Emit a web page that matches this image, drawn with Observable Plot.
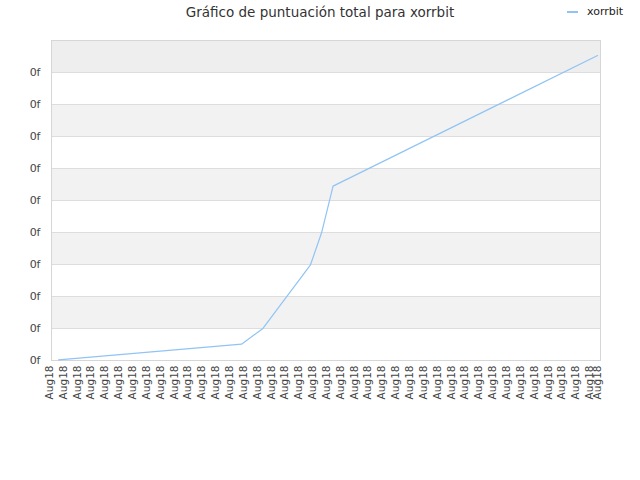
<!DOCTYPE html>
<html>
<head>
<meta charset="utf-8">
<script src="https://cdn.jsdelivr.net/npm/d3@7"></script>
<script src="https://cdn.jsdelivr.net/npm/@observablehq/plot@0.6"></script>
<style>
  html, body { margin: 0; padding: 0; background: #fff; }
  #wrap { position: relative; width: 640px; height: 480px; font-family: "DejaVu Sans", sans-serif; }
  #title { position: absolute; left: 0; width: 640px; top: 4px; text-align: center; font-size: 13.5px; color: #333; }
  #legend { position: absolute; left: 567px; top: 5px; font-size: 11px; color: #222; display: flex; align-items: center; }
  #legend .sw { display: inline-block; width: 11px; height: 2px; background: #90c4f4; margin-right: 9px; }
  #chart { position: absolute; left: 0; top: 0; }
</style>
</head>
<body>
<div id="wrap">
  <div id="chart"></div>
  <div id="title">Gráfico de puntuación total para xorrbit</div>
  <div id="legend"><span class="sw"></span>xorrbit</div>
</div>
<script>
// Data (x: day position, y: score in grid units)
const seriesName = "xorrbit";
const xPos   = [0.65, 13.86, 15.38, 18.84, 19.64, 20.47, 39.57];
const scores = [0.02, 0.51, 0.99, 2.99, 3.99, 5.45, 9.53];
const xTickPositions = [...d3.range(0, 40), 39.6];
const xTickLabel = "Aug18";
const yTickValues = d3.range(0, 10);
const yTickLabel = "0f";
const gridValues = d3.range(0, 11);
const shadedBands = [1, 3, 5, 7];
const topBand = [9];

const xDomain = [0.14, 39.78];
const yDomain = [0, 10];
const points = xPos.map((x, i) => ({x, y: scores[i]}));

const chart = Plot.plot({
  width: 640,
  height: 480,
  marginTop: 40,
  marginBottom: 120,
  marginLeft: 51,
  marginRight: 40,
  style: { fontFamily: "DejaVu Sans, sans-serif", fontSize: "10.5px", color: "#444", background: "transparent" },
  x: { domain: xDomain, label: null },
  y: { domain: yDomain, label: null },
  marks: [
    Plot.rect(shadedBands, { x1: () => xDomain[0], x2: () => xDomain[1], y1: d => d, y2: d => d + 1, fill: "#f2f2f2" }),
    Plot.rect(topBand, { x1: () => xDomain[0], x2: () => xDomain[1], y1: d => d, y2: d => d + 1, fill: "#eeeeee" }),
    Plot.ruleY(gridValues, { stroke: "#dddddd", strokeWidth: 1 }),
    Plot.frame({ stroke: "#d6d6d6" }),
    Plot.axisY({ ticks: yTickValues, tickFormat: () => yTickLabel, tickSize: 0, tickPadding: 11, label: null, fill: "#444", fontSize: 11 }),
    Plot.axisX({ ticks: xTickPositions, tickFormat: () => xTickLabel, tickSize: 0, tickPadding: 5, tickRotate: -90, label: null, fill: "#444" }),
    Plot.line(points, { x: "x", y: "y", stroke: "#90c4f4", strokeWidth: 1.2 })
  ]
});
document.getElementById("chart").appendChild(chart);
</script>
</body>
</html>
